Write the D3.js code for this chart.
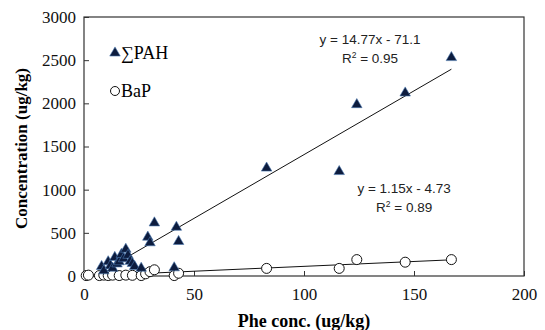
<!DOCTYPE html>
<html>
<head>
<meta charset="utf-8">
<script src="https://cdn.jsdelivr.net/npm/d3@7"></script>
<style>
  body { margin: 0; background: #fff; }
  svg { display: block; }
  .eq { font-family: "Liberation Sans", Arial, sans-serif; font-size: 13.5px; fill: #222; }
</style>
</head>
<body>
<div id="chart"></div>
<script>
const WIDTH = 545
const HEIGHT = 330
const margin = { top: 17, right: 21, bottom: 54, left: 84 }
const SERIF = '"Liberation Serif", "DejaVu Serif", "Times New Roman", Times, serif'

// ∑PAH vs Phe
const pahX = [8, 9, 11, 12, 13, 14, 15, 16, 17, 18, 19, 20, 21, 22, 23, 26, 29, 30, 32, 41, 42, 43, 83, 116, 124, 146, 167]
const pahY = [110, 60, 165, 120, 90, 215, 140, 165, 250, 200, 310, 240, 170, 145, 110, 90, 450, 385, 615, 95, 565, 400, 1250, 1210, 1985, 2120, 2530]

// BaP vs Phe
const bapX = [1, 2, 7, 9, 11, 13, 16, 19, 22, 26, 28, 30, 32, 41, 43, 83, 116, 124, 146, 167]
const bapY = [5, 10, 5, 10, 5, 10, 5, 10, 8, 5, 25, 50, 72, 5, 32, 88, 88, 190, 160, 190]

const xTicks = [0, 50, 100, 150, 200]
const yTicks = [0, 500, 1000, 1500, 2000, 2500, 3000]

const pahFit = { slope: 14.77, intercept: -71.1, label: 'y = 14.77x - 71.1', r2: '0.95' }
const bapFit = { slope: 1.15, intercept: -4.73, label: 'y = 1.15x - 4.73', r2: '0.89' }

const w = WIDTH - margin.left - margin.right
const h = HEIGHT - margin.top - margin.bottom

const svg = d3.select('#chart')
  .append('svg')
  .attr('width', WIDTH)
  .attr('height', HEIGHT)

const g = svg.append('g')
  .attr('transform', `translate(${margin.left}, ${margin.top})`)

const x = d3.scaleLinear().domain([0, 200]).range([0, w])
const y = d3.scaleLinear().domain([0, 3000]).range([h, 0])

// axes, ticks pointing inward
const xAxis = g.append('g')
  .attr('transform', `translate(0, ${h})`)
  .call(d3.axisBottom(x).tickValues(xTicks).tickFormat(d3.format('d')).tickSizeInner(-5).tickSizeOuter(0).tickPadding(12))
const yAxis = g.append('g')
  .call(d3.axisLeft(y).tickValues(yTicks).tickFormat(d3.format('d')).tickSizeInner(-5).tickSizeOuter(0).tickPadding(8))

;[xAxis, yAxis].forEach((a) => {
  a.attr('font-family', SERIF).attr('font-size', 17)
  a.select('.domain').remove()
  a.selectAll('line').attr('stroke', '#333')
  a.selectAll('text').attr('fill', '#111')
})

g.append('rect')
  .attr('width', w)
  .attr('height', h)
  .attr('fill', 'none')
  .attr('stroke', '#333')
  .attr('stroke-width', 1.2)

// trendlines over the data range
function drawFit (fit, xs) {
  const x0 = d3.min(xs)
  const x1 = d3.max(xs)
  g.append('line')
    .attr('x1', x(x0))
    .attr('y1', y(Math.max(0, fit.slope * x0 + fit.intercept)))
    .attr('x2', x(x1))
    .attr('y2', y(fit.slope * x1 + fit.intercept))
    .attr('stroke', '#111')
    .attr('stroke-width', 1)
}

drawFit(bapFit, bapX)
drawFit(pahFit, pahX)

const triangle = d3.symbol().type(d3.symbolTriangle).size(48)

g.append('g')
  .selectAll('circle')
  .data(bapX)
  .join('circle')
  .attr('cx', (d) => x(d))
  .attr('cy', (d, i) => y(bapY[i]))
  .attr('r', 5)
  .attr('fill', '#fff')
  .attr('stroke', '#111')
  .attr('stroke-width', 1)

g.append('g')
  .selectAll('path')
  .data(pahX)
  .join('path')
  .attr('transform', (d, i) => `translate(${x(d)}, ${y(pahY[i])})`)
  .attr('d', triangle)
  .attr('fill', '#0d1c3e')
  .attr('stroke', '#4b78b0')
  .attr('stroke-width', 0.6)

// trend equations
function eqLabel (cx, cy, text) {
  g.append('text').attr('class', 'eq').attr('x', cx).attr('y', cy).attr('text-anchor', 'middle').text(text)
}
function r2Label (cx, cy, val) {
  const t = g.append('text').attr('class', 'eq').attr('x', cx).attr('y', cy).attr('text-anchor', 'middle')
  t.append('tspan').text('R')
  t.append('tspan').attr('dy', -5).attr('font-size', '8.5px').text('2')
  t.append('tspan').attr('dy', 5).text(' = ' + val)
}
eqLabel(x(130), y(2690), pahFit.label)
r2Label(x(130), y(2470), pahFit.r2)
eqLabel(x(145.5), y(960), bapFit.label)
r2Label(x(145.5), y(740), bapFit.r2)

// legend
const legend = g.append('g').attr('transform', 'translate(31, 36)')
  .attr('font-family', SERIF).attr('font-size', 18)
legend.append('path').attr('d', triangle).attr('fill', '#0d1c3e').attr('stroke', '#4b78b0').attr('stroke-width', 0.6)
legend.append('text').attr('x', 6).attr('y', 6).text('∑PAH')
legend.append('circle').attr('cx', 0).attr('cy', 38).attr('r', 4.5).attr('fill', '#fff').attr('stroke', '#111')
legend.append('text').attr('x', 6).attr('y', 44).text('BaP')

// axis titles
svg.append('text')
  .attr('font-family', SERIF).attr('font-size', 18).attr('font-weight', 'bold')
  .attr('x', margin.left + w / 2)
  .attr('y', 327)
  .attr('text-anchor', 'middle')
  .text('Phe conc. (ug/kg)')

svg.append('text')
  .attr('font-family', SERIF).attr('font-size', 17).attr('font-weight', 'bold')
  .attr('transform', `translate(27, ${margin.top + h / 2 + 2}) rotate(-90)`)
  .attr('text-anchor', 'middle')
  .text('Concentration (ug/kg)')
</script>
</body>
</html>
